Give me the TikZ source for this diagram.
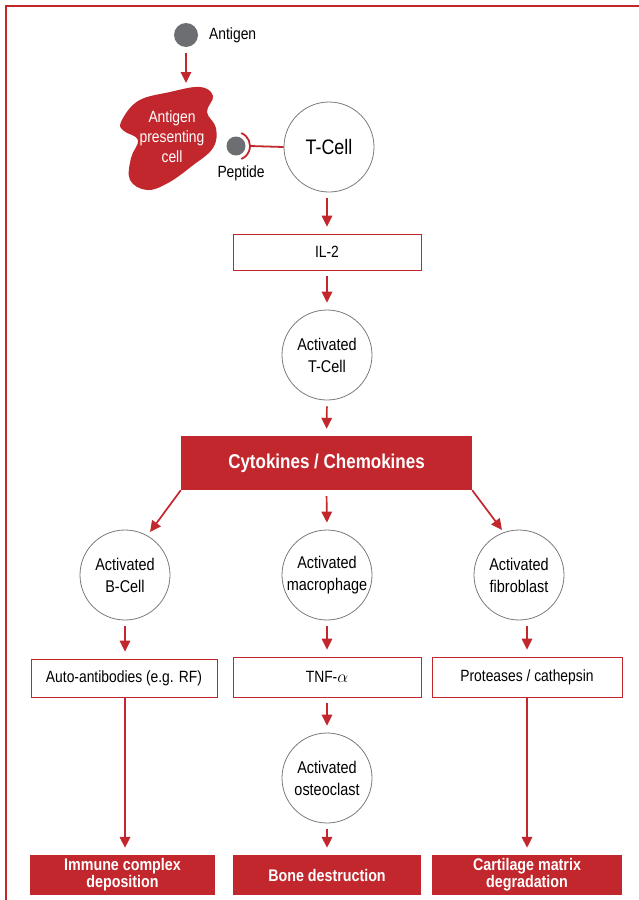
\documentclass[tikz,border=0pt]{standalone}
\usepackage{fontspec}
\setmainfont{Liberation Sans}[FakeStretch=0.85]
\usetikzlibrary{arrows.meta}
\definecolor{rared}{HTML}{C1272D}
\definecolor{cgray}{HTML}{7A7A7A}
\definecolor{dotgray}{HTML}{6D6E71}
\begin{document}
\begin{tikzpicture}[x=1pt,y=-1pt,
  arr/.style={draw=rared, line width=1.7pt, -{Triangle[length=11pt,width=10.5pt]}, shorten <=6pt, shorten >=7pt},
  cell/.style={circle, draw=cgray, line width=0.8pt, minimum size=90pt, inner sep=0pt, align=center, font=\fontsize{17}{22}\selectfont},
  tbox/.style={draw=rared, line width=0.8pt, minimum height=38pt, inner sep=0pt, align=center, font=\fontsize{16.3}{20}\selectfont},
  rbox/.style={fill=rared, minimum height=40pt, inner sep=0pt, align=center, text=white, font=\bfseries\fontsize{16.8}{17}\selectfont},
  lbl/.style={font=\fontsize{16.3}{20}\selectfont, inner sep=0pt},
]
\useasboundingbox (0,0) rectangle (639,900);
\draw[rared, line width=2pt] (5.5,900) -- (5.5,6) -- (639,6);

% antigen
\node[circle, fill=dotgray, minimum size=24pt, inner sep=0pt] (ag) at (186,35) {};
\node[lbl, anchor=west] (agl) at (209,35) {Antigen};
\coordinate (apctop) at (186,90);
\draw[arr] (ag) -- (apctop);

% antigen presenting cell blob
\fill[rared] plot[smooth cycle, tension=0.65] coordinates {
  (121,122) (138,101) (170,92) (200,87) (213,96) (207,112) (216,128)
  (213,148) (192,166) (168,183) (147,190) (130,180) (131,158) (138,140) (124,131)};
\node[lbl, text=white, align=center] (apc) at (172,137) {Antigen\\presenting\\cell};

% peptide
\node[circle, fill=dotgray, minimum size=19pt, inner sep=0pt] (pep) at (236,146) {};
\draw[rared, line width=1.8pt] (236,146) ++(-68:14) arc[start angle=-68, end angle=68, radius=14];
\coordinate (cupR) at (250,146);
\node[lbl] (pepl) at (241,173) {Peptide};

% T cell
\node[cell, font=\fontsize{21}{26}\selectfont] (tc) at (329,147) {T-Cell};
\draw[rared, line width=1.8pt] (cupR) -- (tc.west);

\node[tbox, minimum width=188pt, minimum height=36pt] (il2) at (327,252) {IL-2};
\draw[arr] (tc.south -| il2.north) -- (il2.north);

\node[cell] (atc) at (327,355) {Activated\\T-Cell};
\draw[arr] (il2.south) -- (atc.north);

\node[rbox, minimum width=291pt, minimum height=54pt, font=\bfseries\fontsize{20}{22}\selectfont] (cyt) at (326.5,463) {Cytokines / Chemokines};
\draw[arr] (atc.south) -- (cyt.north);

% second level cells
\node[cell] (bc) at (125,575) {Activated\\B-Cell};
\node[cell] (mac) at (327,575) {Activated\\macrophage};
\node[cell] (fib) at (519,575) {Activated\\fibroblast};
\coordinate (bcend) at (150,532);
\coordinate (fibend) at (502,530);
\draw[arr, shorten <=0pt, shorten >=0pt] (cyt.south west) -- (bcend);
\draw[arr] (cyt.south) -- (mac.north);
\draw[arr, shorten <=0pt, shorten >=0pt] (cyt.south east) -- (fibend);

% mediator boxes
\node[tbox, minimum width=186pt] (aab) at (124,678) {Auto-antibodies (e.g. RF)};
\node[tbox, minimum width=188pt, minimum height=40pt] (tnf) at (327,677) {TNF-$\alpha$};
\node[tbox, minimum width=190pt, minimum height=40pt] (pro) at (527,677) {Proteases / cathepsin};
\draw[arr] (bc.south) -- (aab.north -| bc.south);
\draw[arr] (mac.south) -- (tnf.north);
\draw[arr] (fib.south -| pro.north) -- (pro.north);

\node[cell] (ost) at (327,778) {Activated\\osteoclast};
\draw[arr] (tnf.south) -- (ost.north);

% outcome boxes
\node[rbox, minimum width=185pt] (imm) at (122.5,875) {Immune complex\\deposition};
\node[rbox, minimum width=188pt] (bone) at (327,875) {Bone destruction};
\node[rbox, minimum width=190pt] (cart) at (527,875) {Cartilage matrix\\degradation};
\draw[arr, shorten <=0pt] (aab.south -| bc.south) -- (imm.north -| bc.south);
\draw[arr] (ost.south) -- (bone.north);
\draw[arr, shorten <=0pt] (pro.south) -- (cart.north);
\end{tikzpicture}
\end{document}
